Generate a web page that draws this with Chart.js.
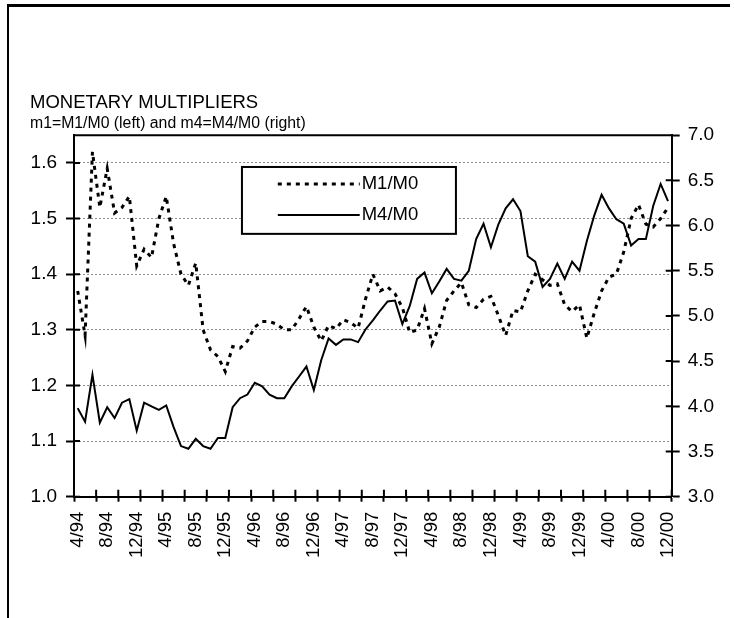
<!DOCTYPE html>
<html>
<head>
<meta charset="utf-8">
<script src="https://cdn.jsdelivr.net/npm/chart.js@4.4.1/dist/chart.umd.min.js"></script>
<style>
  html, body { margin: 0; padding: 0; background: #fff; overflow: hidden; }
  #wrap { position: relative; width: 734px; height: 618px; }
  #frame { position: absolute; left: 7px; top: 4px; width: 721px; height: 620px;
           border-top: 3px solid #000; border-left: 2px solid #000; pointer-events: none; }
  canvas { position: absolute; left: 0; top: 0; }
</style>
</head>
<body>
<div id="wrap">
  <canvas id="chart" width="734" height="618"></canvas>
  <div id="frame"></div>
</div>
<script>
// monthly categories, 4/94 .. 12/00
const months = Array.from({ length: 81 }, (_, i) => {
  const m = (i + 3) % 12 + 1;
  const y = (94 + Math.floor((i + 3) / 12)) % 100;
  return m + "/" + String(y).padStart(2, "0");
});

// m1 = M1/M0 (left axis)
const m1 = [
  1.37, 1.29, 1.62, 1.52, 1.59, 1.51, 1.52, 1.54, 1.415, 1.445,
  1.43, 1.50, 1.54, 1.455, 1.40, 1.38, 1.42, 1.30, 1.264, 1.252,
  1.225, 1.27, 1.267, 1.28, 1.305, 1.315, 1.315, 1.31, 1.30, 1.30,
  1.32, 1.342, 1.305, 1.28, 1.308, 1.302, 1.318, 1.313, 1.303, 1.355,
  1.40, 1.37, 1.377, 1.365, 1.34, 1.295, 1.30, 1.338, 1.275, 1.305,
  1.353, 1.37, 1.385, 1.345, 1.34, 1.355, 1.36, 1.326, 1.29, 1.335,
  1.332, 1.37, 1.40, 1.39, 1.38, 1.383, 1.345, 1.333, 1.345, 1.285,
  1.33, 1.37, 1.395, 1.40, 1.44, 1.50, 1.525, 1.49, 1.485, 1.50,
  1.52,
];

// m4 = M4/M0 (right axis)
const m4 = [
  3.98, 3.83, 4.35, 3.82, 3.99, 3.87, 4.04, 4.08, 3.73, 4.04,
  4.00, 3.96, 4.01, 3.77, 3.56, 3.53, 3.64, 3.56, 3.53, 3.65,
  3.65, 3.99, 4.09, 4.13, 4.26, 4.22, 4.13, 4.09, 4.09, 4.22,
  4.33, 4.44, 4.18, 4.51, 4.75, 4.68, 4.74, 4.74, 4.71, 4.85,
  4.95, 5.06, 5.16, 5.17, 4.91, 5.11, 5.41, 5.48, 5.25, 5.38,
  5.52, 5.41, 5.39, 5.50, 5.85, 6.02, 5.76, 6.01, 6.19, 6.29,
  6.16, 5.66, 5.60, 5.32, 5.41, 5.58, 5.41, 5.60, 5.50, 5.83,
  6.11, 6.34, 6.19, 6.07, 6.02, 5.78, 5.85, 5.85, 6.22, 6.46,
  6.27,
];

const seriesNames = ["M1/M0", "M4/M0"];

Chart.defaults.font.family = "'Liberation Sans', Arial, sans-serif";
Chart.defaults.color = "#000";

// ticks that cross the axis lines, plus the top border of the plot
const crossTicks = {
  id: "crossTicks",
  afterDraw(chart) {
    const { ctx, chartArea: a, scales } = chart;
    const x = scales.x, yl = scales.y, yr = scales.y1;
    ctx.save();
    ctx.strokeStyle = "#000";
    ctx.lineWidth = 2;
    ctx.beginPath();
    ctx.moveTo(a.left - 1, a.top);
    ctx.lineTo(a.right + 1, a.top);
    for (let k = 0; k <= months.length; k += 3) {
      const px = x.getPixelForValue(k - 0.5);
      ctx.moveTo(px, a.bottom);
      ctx.lineTo(px, a.bottom - 7);
    }
    yl.ticks.forEach((t, i) => {
      const py = yl.getPixelForTick(i);
      ctx.moveTo(a.left, py);
      ctx.lineTo(a.left + 6, py);
    });
    yr.ticks.forEach((t, i) => {
      const py = yr.getPixelForTick(i);
      ctx.moveTo(a.right, py);
      ctx.lineTo(a.right - 6, py);
    });
    ctx.stroke();
    ctx.restore();
  },
};

// boxed legend inside the plot
const boxLegend = {
  id: "boxLegend",
  afterDraw(chart) {
    const { ctx, chartArea: a } = chart;
    const w = a.right - a.left, h = a.bottom - a.top;
    const x0 = a.left + 0.281 * w, x1 = a.left + 0.639 * w;
    const y0 = a.top + 0.088 * h, y1 = a.top + 0.273 * h;
    const ls = a.left + 0.341 * w, le = a.left + 0.478 * w;
    const rows = [a.top + 0.135 * h, a.top + 0.221 * h];
    ctx.save();
    ctx.fillStyle = "#fff";
    ctx.fillRect(x0, y0, x1 - x0, y1 - y0);
    ctx.strokeStyle = "#000";
    ctx.lineWidth = 2;
    ctx.strokeRect(x0, y0, x1 - x0, y1 - y0);
    chart.data.datasets.forEach((ds, i) => {
      ctx.beginPath();
      ctx.lineWidth = ds.borderWidth;
      ctx.setLineDash(ds.borderDash || []);
      ctx.moveTo(ls, rows[i]);
      ctx.lineTo(le, rows[i]);
      ctx.stroke();
      ctx.setLineDash([]);
      ctx.fillStyle = "#000";
      ctx.font = "18.5px 'Liberation Sans', Arial, sans-serif";
      ctx.textBaseline = "middle";
      ctx.fillText(ds.label, le + 2, rows[i]);
    });
    ctx.restore();
  },
};

new Chart(document.getElementById("chart"), {
  type: "line",
  data: {
    labels: months,
    datasets: [
      {
        label: seriesNames[0],
        data: m1,
        yAxisID: "y",
        borderColor: "#000",
        borderWidth: 3,
        borderDash: [4, 5],
        pointRadius: 0,
        tension: 0,
      },
      {
        label: seriesNames[1],
        data: m4,
        yAxisID: "y1",
        borderColor: "#000",
        borderWidth: 2,
        pointRadius: 0,
        tension: 0,
      },
    ],
  },
  options: {
    responsive: false,
    animation: false,
    events: [],
    layout: { padding: { top: 92, left: 30, right: 0, bottom: 0 } },
    plugins: {
      legend: { display: false },
      tooltip: { enabled: false },
      title: {
        display: true,
        text: "MONETARY MULTIPLIERS",
        align: "start",
        color: "#000",
        font: { size: 18.5, weight: "normal" },
        padding: 0,
      },
      subtitle: {
        display: true,
        text: "m1=M1/M0 (left) and m4=M4/M0 (right)",
        align: "start",
        color: "#000",
        font: { size: 15.8 },
        padding: { top: 0, bottom: 2 },
      },
    },
    scales: {
      x: {
        type: "category",
        offset: true,
        grid: {
          offset: true,
          drawOnChartArea: false,
          tickLength: 5,
          tickWidth: 2,
          tickColor: (c) =>
            c.index === undefined || c.index % 3 === 0 ? "#000" : "rgba(0,0,0,0)",
        },
        border: { color: "#000", width: 2 },
        ticks: {
          autoSkip: false,
          minRotation: 90,
          maxRotation: 90,
          padding: 10,
          color: "#000",
          font: { size: 18.5 },
          callback: function (v, i) {
            return i % 4 === 0 ? this.getLabelForValue(v) : "";
          },
        },
        afterFit: (s) => { s.height = 121.3; },
      },
      y: {
        position: "left",
        min: 1.0,
        max: 1.65,
        ticks: {
          stepSize: 0.1,
          padding: 9,
          color: "#000",
          font: { size: 19 },
          callback: (v) => v.toFixed(1),
        },
        grid: {
          color: "#8c8c8c",
          lineWidth: 1,
          tickLength: 8,
          tickWidth: 2,
          tickColor: "#000",
        },
        border: { color: "#000", width: 2, dash: [2, 2] },
        afterBuildTicks: (s) => { s.ticks = s.ticks.filter((t) => t.value < 1.61); },
        afterFit: (s) => { s.width = 44; },
      },
      y1: {
        position: "right",
        min: 3.0,
        max: 7.0,
        ticks: {
          stepSize: 0.5,
          padding: 8,
          color: "#000",
          font: { size: 19 },
          callback: (v) => v.toFixed(1),
        },
        grid: {
          drawOnChartArea: false,
          tickLength: 8,
          tickWidth: 2,
          tickColor: "#000",
        },
        border: { color: "#000", width: 2 },
        afterFit: (s) => { s.width = 62.3; },
      },
    },
  },
  plugins: [crossTicks, boxLegend],
});
</script>
</body>
</html>
